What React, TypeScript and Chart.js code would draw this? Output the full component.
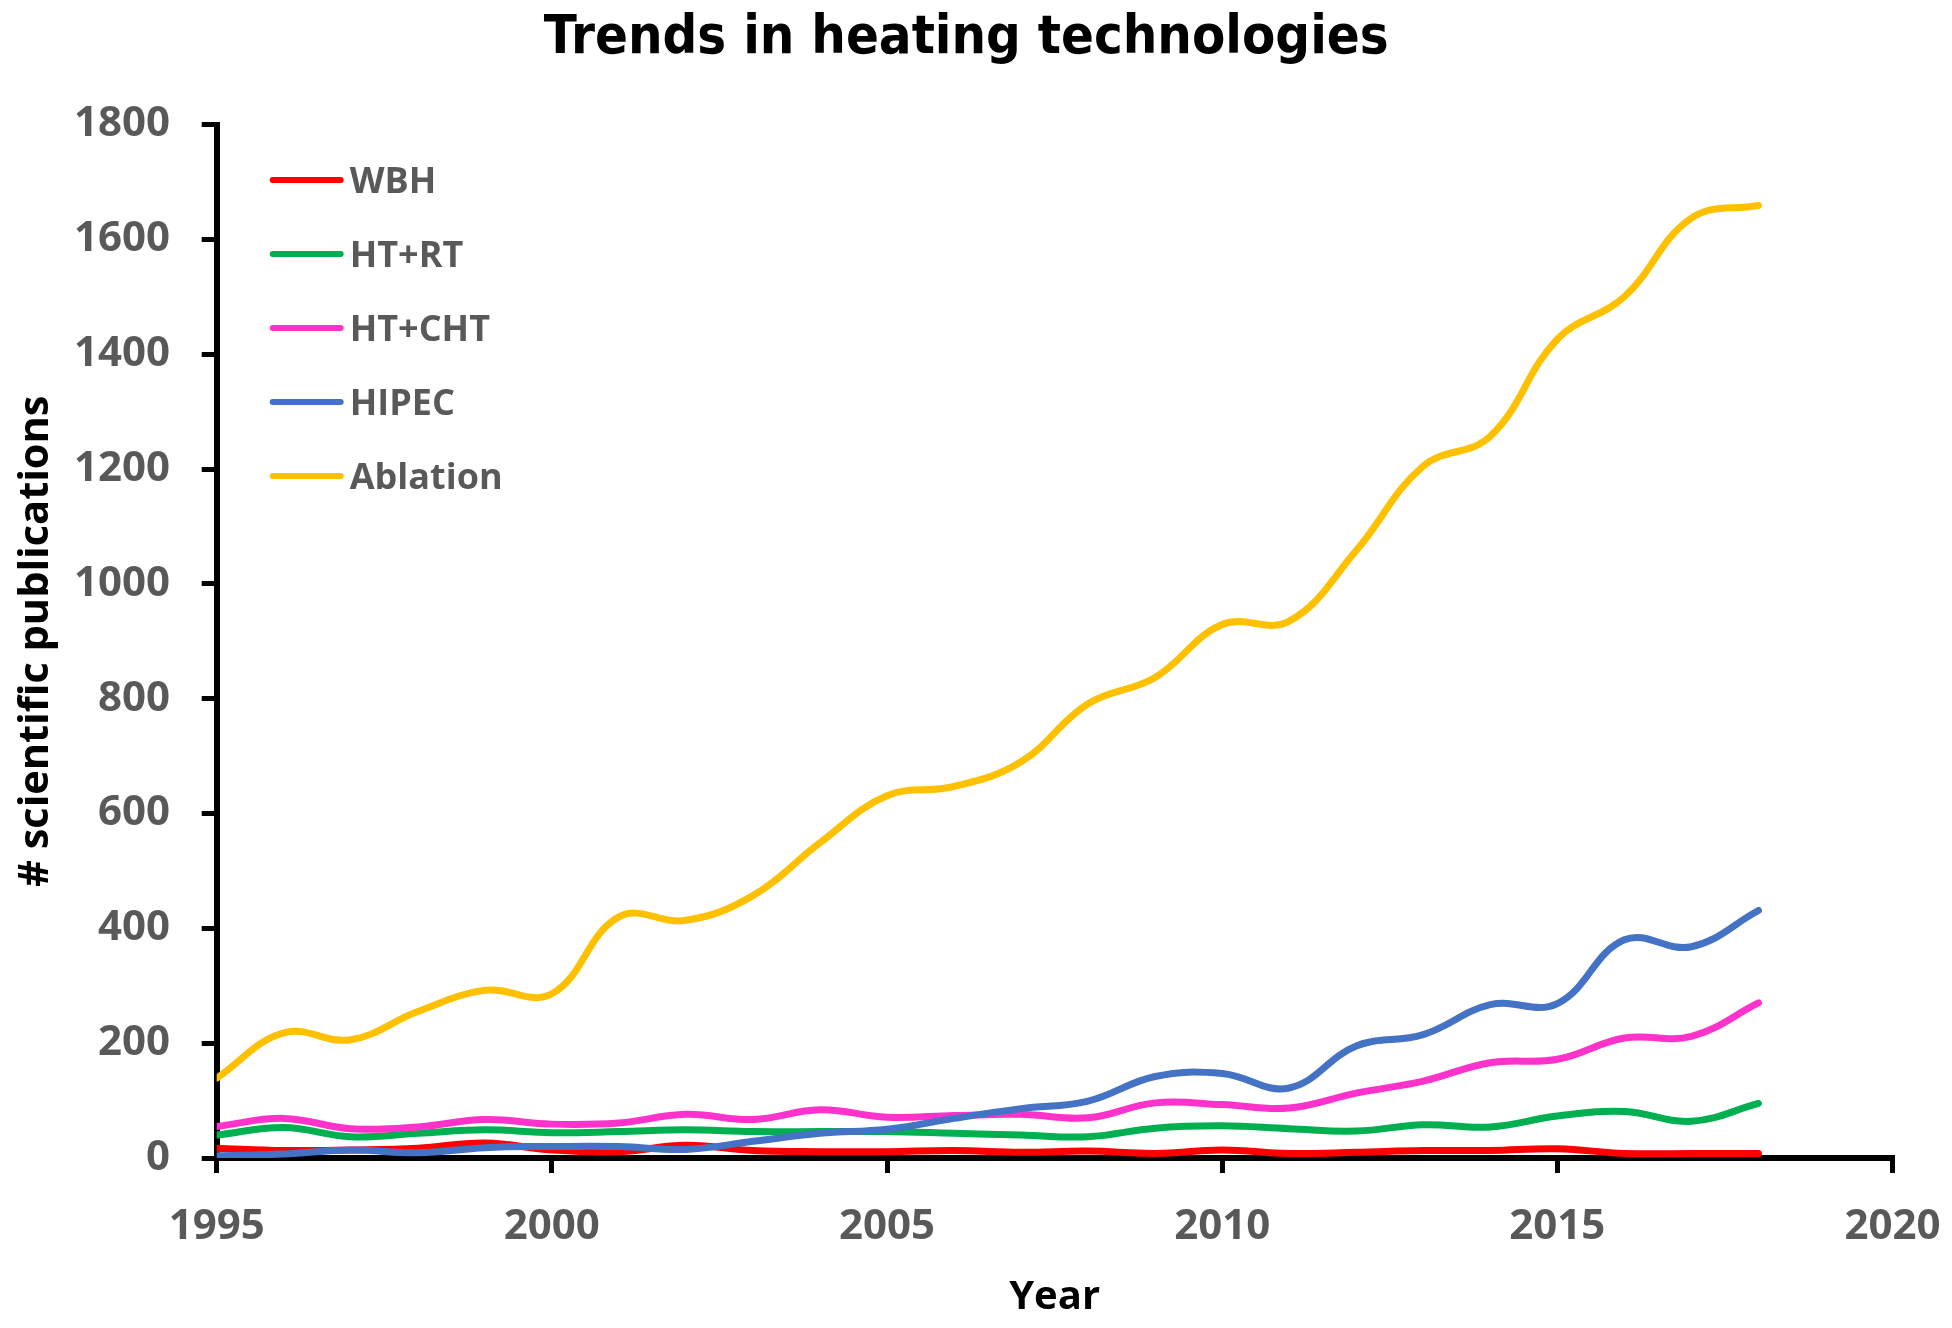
import React, { useEffect, useRef } from "react";
import { Chart, registerables } from "chart.js";

Chart.register(...registerables);

// ---- data ----
const years = [
  1995, 1996, 1997, 1998, 1999, 2000, 2001, 2002, 2003, 2004, 2005, 2006,
  2007, 2008, 2009, 2010, 2011, 2012, 2013, 2014, 2015, 2016, 2017, 2018,
];
const wbh = [17, 13, 14, 17, 26, 14, 11, 22, 13, 11, 11, 13, 10, 12, 8, 14, 8, 10, 13, 13, 16, 8, 8, 8];
const htRt = [40, 53, 37, 43, 49, 44, 46, 49, 46, 46, 46, 43, 40, 37, 52, 56, 51, 47, 58, 54, 73, 81, 64, 95];
const htCht = [55, 69, 51, 54, 67, 59, 61, 76, 67, 84, 71, 74, 76, 70, 96, 93, 87, 113, 134, 166, 172, 209, 212, 270];
const hipec = [4, 7, 14, 9, 18, 20, 20, 15, 29, 43, 50, 69, 86, 99, 142, 147, 122, 195, 215, 267, 269, 380, 368, 431];
const ablation = [139, 218, 206, 255, 292, 286, 420, 414, 457, 549, 631, 647, 690, 791, 837, 929, 935, 1058, 1205, 1257, 1426, 1500, 1637, 1659];

const seriesNames = ["WBH", "HT+RT", "HT+CHT", "HIPEC", "Ablation"];
const seriesValues = [wbh, htRt, htCht, hipec, ablation];
const seriesColors = ["#FF0000", "#00B050", "#FF33CC", "#4472C4", "#FFC000"];

const xMin = 1995;
const xMax = 2020;
const xStep = 5;
const yMin = 0;
const yMax = 1800;
const yStep = 200;

const titleText = "Trends in heating technologies";
const xTitleText = "Year";
const yTitleText = "# scientific publications";

const GRAY = "#595959";
const SANS = "'Open Sans', 'DejaVu Sans', sans-serif";
const NARROW = "'Liberation Sans Narrow', 'DejaVu Sans Condensed', 'Liberation Sans', sans-serif";

const legendPlugin = {
  id: "insideLegend",
  afterDraw(chart: any) {
    const { ctx, chartArea } = chart;
    ctx.save();
    chart.data.datasets.forEach((ds: any, i: number) => {
      const y = chartArea.top + 55.5 + i * 74;
      ctx.strokeStyle = ds.borderColor;
      ctx.lineWidth = 6;
      ctx.lineCap = "round";
      ctx.beginPath();
      ctx.moveTo(chartArea.left + 56, y);
      ctx.lineTo(chartArea.left + 124, y);
      ctx.stroke();
      ctx.font = `bold 36px ${SANS}`;
      ctx.fillStyle = GRAY;
      ctx.textAlign = "left";
      ctx.textBaseline = "alphabetic";
      ctx.fillText(ds.label, chartArea.left + 133, y + 12.8);
    });
    ctx.restore();
  },
};

export default function App() {
  const canvasRef = useRef<HTMLCanvasElement | null>(null);

  useEffect(() => {
    if (!canvasRef.current) return;
    const chart = new Chart(canvasRef.current, {
      type: "line",
      data: {
        datasets: seriesNames.map((name, i) => ({
          label: name,
          data: years.map((yr, j) => ({ x: yr, y: seriesValues[i][j] })),
          borderColor: seriesColors[i],
          backgroundColor: seriesColors[i],
          borderWidth: 7,
          pointRadius: 0,
          tension: 0.4,
          fill: false,
          order: seriesNames.length - i,
          borderCapStyle: "round",
        })),
      },
      options: {
        responsive: false,
        animation: false,
        layout: { padding: { left: 40, right: 59.5, top: 0, bottom: 0 } },
        plugins: {
          legend: { display: false },
          tooltip: { enabled: false },
          title: {
            display: true,
            text: titleText,
            color: "#000000",
            font: { family: NARROW, weight: "bold", size: 54, lineHeight: 1 },
            padding: { top: 12, bottom: 58.5 },
          },
        },
        scales: {
          x: {
            type: "linear",
            min: xMin,
            max: xMax,
            afterFit: (s: any) => {
              s.height = 170;
              s.paddingLeft = 10;
              s.paddingRight = 10;
            },
            ticks: {
              stepSize: xStep,
              color: GRAY,
              padding: 28.5,
              font: { family: SANS, weight: "bold", size: 42 },
              callback: (v: any) => String(v),
              maxRotation: 0,
            },
            grid: {
              drawOnChartArea: false,
              drawTicks: true,
              tickLength: 15,
              color: "#000000",
              lineWidth: 5,
            },
            border: { display: true, color: "#000000", width: 6 },
            title: {
              display: true,
              text: xTitleText,
              color: "#000000",
              font: { family: SANS, weight: "bold", size: 40 },
              padding: { top: 0, bottom: 6.5 },
            },
          },
          y: {
            type: "linear",
            min: yMin,
            max: yMax,
            afterFit: (s: any) => {
              s.width = 176.7;
              s.paddingTop = 10;
              s.paddingBottom = 10;
            },
            ticks: {
              stepSize: yStep,
              color: GRAY,
              padding: 31.7,
              font: { family: SANS, weight: "bold", size: 42 },
              callback: (v: any) => String(v),
            },
            grid: {
              drawOnChartArea: false,
              drawTicks: true,
              tickLength: 15,
              color: "#000000",
              lineWidth: 5,
            },
            border: { display: true, color: "#000000", width: 6 },
            title: {
              display: true,
              text: yTitleText,
              color: "#000000",
              font: { family: SANS, weight: "bold", size: 41.5 },
              padding: { top: -29, bottom: 0 },
            },
          },
        },
      },
      plugins: [legendPlugin],
    } as any);
    return () => chart.destroy();
  }, []);

  return (
    <div style={{ position: "fixed", left: 0, top: 0, width: 1952, height: 1328, background: "#ffffff" }}>
      <canvas ref={canvasRef} width={1952} height={1328} />
    </div>
  );
}
